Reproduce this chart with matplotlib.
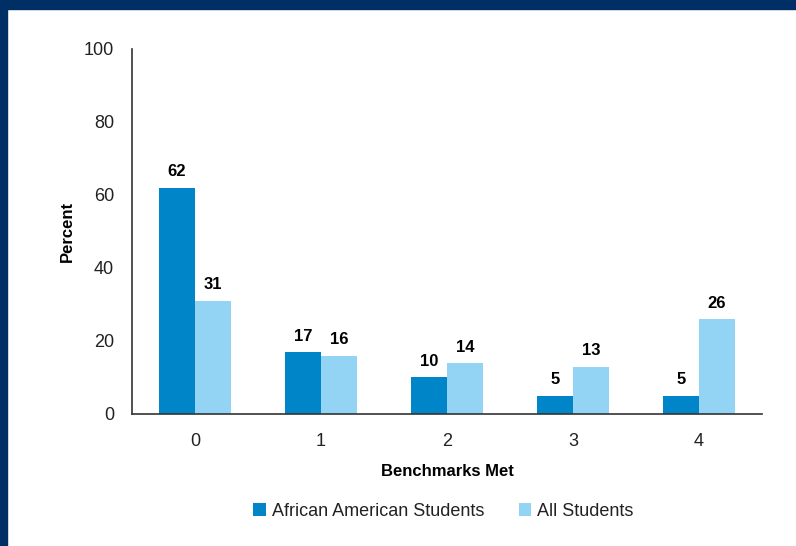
import matplotlib
matplotlib.use('Agg')
import matplotlib.pyplot as plt
import numpy as np

plt.rcParams['font.family'] = ['Liberation Sans', 'DejaVu Sans']

# data
benchmarks = ['0', '1', '2', '3', '4']
african_american = [62, 17, 10, 5, 5]
all_students = [31, 16, 14, 13, 26]
series_names = ['African American Students', 'All Students']
yticks = [0, 20, 40, 60, 80, 100]

dark_blue = '#0085c8'
light_blue = '#93d3f3'
navy = '#002f65'
text_col = '#222222'

fig = plt.figure(figsize=(7.96, 5.46), dpi=100)
fig.patch.set_facecolor('white')

# navy frame on top and left edge
fig.patches.append(plt.Rectangle((0, 1 - 9 / 546), 1, 9 / 546, transform=fig.transFigure,
                                 color=navy, zorder=0))
fig.patches.append(plt.Rectangle((0, 0), 7 / 796, 1, transform=fig.transFigure,
                                 color=navy, zorder=0))

ax = fig.add_axes([0.1658, 0.2418, 0.7915, 0.6685])
x = np.arange(len(benchmarks))
w = 0.285
b1 = ax.bar(x - w / 2, african_american, w, color=dark_blue, label=series_names[0])
b2 = ax.bar(x + w / 2, all_students, w, color=light_blue, label=series_names[1])

for bars in (b1, b2):
    for r in bars:
        ax.annotate(str(int(r.get_height())), (r.get_x() + r.get_width() / 2, r.get_height()),
                    xytext=(0, 6), textcoords='offset points', ha='center', va='bottom',
                    fontsize=12, fontweight='bold', color='black')

ax.set_xlim(-0.5, len(benchmarks) - 0.5)
ax.set_ylim(0, 100)
ax.set_yticks(yticks)
ax.set_xticks(x)
ax.set_xticklabels(benchmarks)
ax.tick_params(axis='both', length=0, labelsize=13, colors=text_col)
ax.tick_params(axis='y', pad=13)
ax.tick_params(axis='x', pad=14)

for s in ['top', 'right']:
    ax.spines[s].set_visible(False)
for s in ['left', 'bottom']:
    ax.spines[s].set_color('#333333')
    ax.spines[s].set_linewidth(1.2)

ax.set_ylabel('Percent', fontsize=12, fontweight='bold', color='black', labelpad=6)
ax.set_xlabel('Benchmarks Met', fontsize=12, fontweight='bold', color='black', labelpad=10)

fig.legend(handles=[b1, b2], loc='center', bbox_to_anchor=(0.557, 0.064), ncol=2,
           frameon=False, fontsize=13, handlelength=0.7, handleheight=0.7,
           handletextpad=0.35, columnspacing=1.9, labelcolor=text_col)

fig.savefig('out.png', dpi=100)
